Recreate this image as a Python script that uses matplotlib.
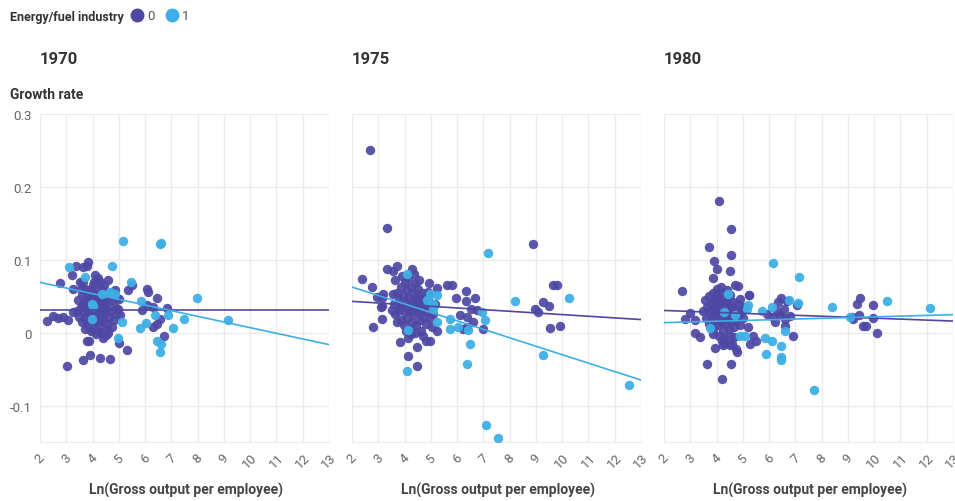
import matplotlib.pyplot as plt
from matplotlib.lines import Line2D

plt.rcParams['font.family'] = ['Roboto', 'DejaVu Sans']

years = ['1970', '1975', '1980']
dark = '#4e47a4'
light = '#3eafe6'

# Energy/fuel industry = 0
x0_1970 = [2.28, 2.51, 2.70, 2.76, 2.89, 3.08, 3.27, 3.01, 3.65, 3.90, 4.28, 4.66, 5.32, 5.02, 3.78, 3.88,
           3.23, 3.37, 3.65, 3.84, 3.78, 3.52, 4.09, 4.60, 3.27, 5.36, 5.49, 6.06, 6.12, 6.47, 5.87, 6.06,
           6.31, 6.85, 6.57, 6.47, 6.29, 6.73, 5.02, 4.41, 4.28, 4.54, 4.73, 5.05, 4.98, 4.92, 4.86, 4.28,
           4.03, 3.90,
           3.40, 3.45, 3.50, 3.55, 3.58, 3.60, 3.62, 3.68, 3.70, 3.72, 3.75, 3.78, 3.80, 3.82, 3.85, 3.88,
           3.92, 3.95, 3.98, 4.00, 4.02, 4.05, 4.08, 4.10, 4.12, 4.15, 4.18, 4.20, 4.22, 4.25, 4.28, 4.30,
           4.33, 4.35, 4.38, 4.40, 4.42, 4.45, 4.48, 4.50, 4.55, 4.58, 4.62, 4.65, 4.70, 4.75, 4.80, 4.85,
           4.90, 3.95, 4.15, 4.35, 4.50, 4.60, 3.70, 4.05, 4.45, 4.20, 3.65, 3.55]
y0_1970 = [0.016, 0.023, 0.020, 0.068, 0.022, 0.017, 0.028, -0.046, -0.038, -0.030, -0.035, -0.036, -0.024,
           -0.014, -0.011, -0.011, 0.079, 0.092, 0.090, 0.097, 0.092, 0.069, 0.079, 0.072, 0.060, 0.058,
           0.065, 0.060, 0.056, 0.048, 0.031, 0.038, 0.035, 0.034, 0.019, 0.012, 0.008, -0.004, 0.046,
           -0.008, 0.001, 0.005, 0.008, 0.024, 0.033, 0.047, 0.058, 0.069, 0.065, 0.058,
           0.030, 0.045, 0.022, 0.035, 0.052, 0.015, 0.040, 0.028, 0.060, 0.020, 0.045, 0.033, 0.010,
           0.050, 0.025, 0.038, 0.018, 0.048, 0.030, 0.055, 0.005, 0.040, 0.022, 0.035, 0.062, 0.015,
           0.045, 0.028, 0.052, 0.010, 0.038, 0.020, 0.045, 0.030, 0.058, 0.015, 0.040, 0.025, 0.050,
           0.032, 0.012, 0.042, 0.022, 0.055, 0.030, 0.045, 0.018, 0.035, 0.025, 0.002, -0.002, 0.000,
           -0.003, 0.000, 0.005, 0.070, 0.065, 0.075, 0.070, 0.060]

x0_1975 = [2.69, 3.34, 8.88, 2.38, 2.75, 2.79, 3.13, 3.13, 3.32, 3.70, 3.57, 4.27, 4.93, 5.22, 5.63, 5.79,
           5.96, 6.34, 6.34, 6.68, 6.53, 6.75, 6.11, 6.37, 6.62, 6.37, 6.24, 6.97, 9.09, 8.97, 9.26, 9.51,
           9.64, 9.79, 9.54, 9.92, 3.83, 4.14, 4.46, 4.82, 4.97, 4.12, 4.46, 5.22, 2.94, 3.19, 3.13, 3.10,
           3.57, 3.64, 3.83, 3.51, 3.70, 4.91,
           3.60, 3.65, 3.70, 3.75, 3.80, 3.85, 3.88, 3.92, 3.95, 3.98, 4.00, 4.02, 4.05, 4.08, 4.10, 4.12,
           4.15, 4.18, 4.20, 4.22, 4.25, 4.28, 4.30, 4.32, 4.35, 4.38, 4.40, 4.42, 4.45, 4.48, 4.50, 4.52,
           4.55, 4.58, 4.60, 4.62, 4.65, 4.70, 4.72, 4.75, 4.80, 4.85, 4.90, 4.95, 5.00, 5.05, 5.10, 5.15,
           4.25, 4.40, 4.70, 4.05, 3.90, 4.35, 4.55]
y0_1975 = [0.250, 0.144, 0.122, 0.074, 0.062, 0.008, 0.019, 0.036, 0.087, 0.092, 0.085, 0.088, 0.068,
           0.061, 0.066, 0.066, 0.047, 0.057, 0.044, 0.047, 0.033, 0.031, 0.024, 0.021, 0.015, 0.008,
           0.005, 0.005, 0.028, 0.033, 0.042, 0.037, 0.065, 0.065, 0.006, 0.009, -0.013, -0.008, -0.020,
           -0.012, -0.012, -0.032, -0.046, 0.002, 0.049, 0.053, 0.047, 0.035, 0.053, 0.072, 0.035, 0.031,
           0.015, 0.056,
           0.040, 0.025, 0.055, 0.030, 0.045, 0.018, 0.062, 0.035, 0.050, 0.010, 0.070, 0.028, 0.042,
           0.058, 0.020, 0.035, 0.075, 0.048, 0.005, 0.030, 0.062, 0.040, 0.015, 0.055, 0.025, 0.045,
           0.068, 0.035, 0.010, 0.050, 0.028, 0.060, 0.040, 0.018, 0.048, 0.002, 0.032, 0.055, 0.022,
           0.042, 0.012, 0.030, 0.045, 0.020, 0.035, 0.008, 0.025, 0.040, -0.002, 0.000, -0.004, 0.002,
           0.078, 0.080, 0.072]

x0_1980 = [4.09, 4.55, 3.71, 4.55, 3.90, 4.01, 4.51, 3.88, 2.70, 4.70, 4.83, 4.17, 5.24, 2.99, 2.80, 3.18,
           3.18, 3.37, 3.94, 6.44, 6.35, 6.67, 7.05, 5.91, 6.16, 6.42, 6.61, 6.80, 6.23, 6.61, 6.90, 3.65,
           4.55, 4.22, 5.27, 5.40, 5.50, 10.10, 4.74, 4.79, 4.32, 4.51, 4.20, 9.15, 9.21, 9.44, 9.34, 9.46,
           9.59, 9.69, 9.97, 9.97, 6.55, 6.30, 4.26, 4.58, 5.21, 4.89, 5.25,
           3.50, 3.55, 3.60, 3.65, 3.70, 3.72, 3.75, 3.80, 3.82, 3.85, 3.88, 3.90, 3.92, 3.95, 3.98, 4.00,
           4.02, 4.05, 4.08, 4.10, 4.12, 4.15, 4.18, 4.20, 4.22, 4.25, 4.28, 4.30, 4.32, 4.35, 4.38, 4.40,
           4.42, 4.45, 4.48, 4.50, 4.52, 4.55, 4.58, 4.62, 4.65, 4.68, 4.72, 4.75, 4.80, 4.85, 4.90, 4.95,
           5.00, 5.05, 4.10, 4.30, 4.50, 3.85, 4.65, 4.00, 4.40]
y0_1980 = [0.181, 0.142, 0.118, 0.107, 0.098, 0.088, 0.084, 0.075, 0.057, 0.066, 0.064, 0.062, 0.051,
           0.027, 0.019, 0.017, 0.000, -0.006, -0.021, 0.047, 0.042, 0.043, 0.038, 0.026, 0.021, 0.024,
           0.019, 0.023, 0.014, 0.009, -0.005, -0.043, -0.043, -0.063, -0.016, -0.005, -0.011, -0.001,
           -0.023, -0.027, -0.015, -0.017, -0.011, 0.021, 0.019, 0.024, 0.040, 0.047, 0.009, 0.009, 0.038,
           0.020, 0.033, 0.030, -0.017, -0.015, 0.008, 0.046, 0.051,
           0.030, 0.045, 0.020, 0.035, 0.050, 0.012, 0.028, 0.040, 0.022, 0.055, 0.005, 0.033, 0.045,
           0.018, 0.028, 0.050, 0.038, 0.010, 0.025, 0.042, 0.032, 0.055, 0.015, 0.028, 0.040, 0.002,
           0.022, 0.048, 0.035, 0.012, 0.030, 0.045, 0.020, 0.038, 0.005, 0.027, 0.052, 0.015, 0.035,
           0.042, 0.022, 0.008, 0.032, 0.018, 0.040, 0.025, 0.010, 0.030, 0.020, 0.035, -0.005, -0.008,
           -0.004, -0.002, -0.006, 0.060, 0.058]

# Energy/fuel industry = 1
x1_1970 = [5.15, 6.55, 6.62, 3.12, 4.73, 5.45, 7.99, 9.17, 7.47, 7.05, 6.86, 6.38, 5.81, 6.04, 5.13, 4.95,
           6.44, 6.59, 6.57, 5.84, 3.71, 4.35, 4.66, 3.97, 3.97, 4.86, 4.03]
y1_1970 = [0.126, 0.122, 0.123, 0.090, 0.092, 0.070, 0.048, 0.018, 0.019, 0.007, 0.024, 0.024, 0.007,
           0.013, 0.015, -0.007, -0.011, -0.015, -0.027, 0.043, 0.076, 0.053, 0.056, 0.040, 0.019, 0.053,
           0.037]

x1_1975 = [7.17, 4.08, 4.97, 5.22, 5.10, 4.14, 5.22, 6.94, 7.06, 5.73, 5.73, 6.05, 6.43, 6.49, 8.19, 10.26,
           9.26, 4.08, 6.39, 12.54, 7.10, 7.57, 5.10, 4.85]
y1_1975 = [0.109, 0.081, 0.053, 0.051, 0.033, 0.003, 0.015, 0.028, 0.017, 0.019, 0.005, 0.008, 0.004,
           -0.016, 0.044, 0.047, -0.031, -0.052, -0.043, -0.072, -0.126, -0.144, 0.040, 0.045]

x1_1980 = [6.14, 7.14, 8.38, 10.48, 12.13, 9.08, 5.74, 6.77, 7.09, 6.12, 6.61, 5.84, 6.10, 6.44, 5.88, 6.44,
           6.44, 7.71, 5.21, 5.15, 4.45, 4.89, 5.08, 3.75, 4.70, 4.30]
y1_1980 = [0.095, 0.076, 0.035, 0.044, 0.034, 0.021, 0.030, 0.045, 0.041, 0.035, 0.002, -0.007, -0.011,
           -0.018, -0.029, -0.033, -0.037, -0.078, 0.038, 0.033, 0.053, -0.004, -0.005, 0.006, 0.024, 0.028]

# fitted lines: (intercept, slope) per group
fit0 = [(0.0306, 0.0), (0.0475, -0.00227), (0.0331, -0.00132)]
fit1 = [(0.0845, -0.00776), (0.0858, -0.0116), (0.0117, 0.00100)]

xs0 = [x0_1970, x0_1975, x0_1980]
ys0 = [y0_1970, y0_1975, y0_1980]
xs1 = [x1_1970, x1_1975, x1_1980]
ys1 = [y1_1970, y1_1975, y1_1980]

W, H = 955, 502
fig = plt.figure(figsize=(W / 100, H / 100), dpi=100)

lefts = [40, 352, 664]
for i, year in enumerate(years):
    ax = fig.add_axes([lefts[i] / W, 1 - 443 / H, 289 / W, 328 / H])
    ax.scatter(xs0[i], ys0[i], s=46, color=dark, alpha=0.92, linewidths=0, zorder=3)
    ax.scatter(xs1[i], ys1[i], s=46, color=light, alpha=0.95, linewidths=0, zorder=3)
    xl = [2, 13]
    a, b = fit0[i]
    ax.plot(xl, [a + b * v for v in xl], color=dark, lw=1.2, zorder=4)
    a, b = fit1[i]
    ax.plot(xl, [a + b * v for v in xl], color=light, lw=1.2, zorder=4)

    ax.set_xlim(2, 13)
    ax.set_ylim(-0.15, 0.3)
    ax.set_xticks(range(2, 14))
    ax.set_xticklabels([str(v) for v in range(2, 14)], rotation=45, fontsize=9.5, color='#666666')
    ax.set_yticks([-0.1, 0, 0.1, 0.2, 0.3])
    if i == 0:
        ax.set_yticklabels(['-0.1', '0', '0.1', '0.2', '0.3'], fontsize=9.5, color='#666666')
    else:
        ax.set_yticklabels([])
    ax.tick_params(length=0, pad=6)
    ax.grid(color='#ebebeb', lw=1, zorder=0)
    ax.set_axisbelow(True)
    for side in ['top', 'left', 'right']:
        ax.spines[side].set_visible(False)
    ax.spines['bottom'].set_color('#ebebeb')
    fig.text((lefts[i] + 146) / W, 1 - 490 / H, 'Ln(Gross output per employee)', fontsize=10,
             fontweight='bold', color='#444444', va='center', ha='center')
    fig.text(lefts[i] / W, 1 - 60 / H, year, fontsize=12, fontweight='bold',
             color='#333333', va='center', ha='left')

fig.text(10 / W, 1 - 95 / H, 'Growth rate', fontsize=10, fontweight='bold',
         color='#333333', va='center')

fig.text(10 / W, 1 - 17 / H, 'Energy/fuel industry', fontsize=9, fontweight='bold',
         color='#333333', va='center')
handles = [Line2D([], [], marker='o', ls='', color=dark, markersize=9),
           Line2D([], [], marker='o', ls='', color=light, markersize=9)]
fig.legend(handles, ['0', '1'], loc='center left', bbox_to_anchor=(130 / W, 1 - 17 / H),
           ncol=2, frameon=False, handletextpad=0.3, columnspacing=0.8, handlelength=1.0,
           fontsize=9.5, labelcolor='#555555', borderaxespad=0, borderpad=0)

fig.savefig('out.png', dpi=100)
